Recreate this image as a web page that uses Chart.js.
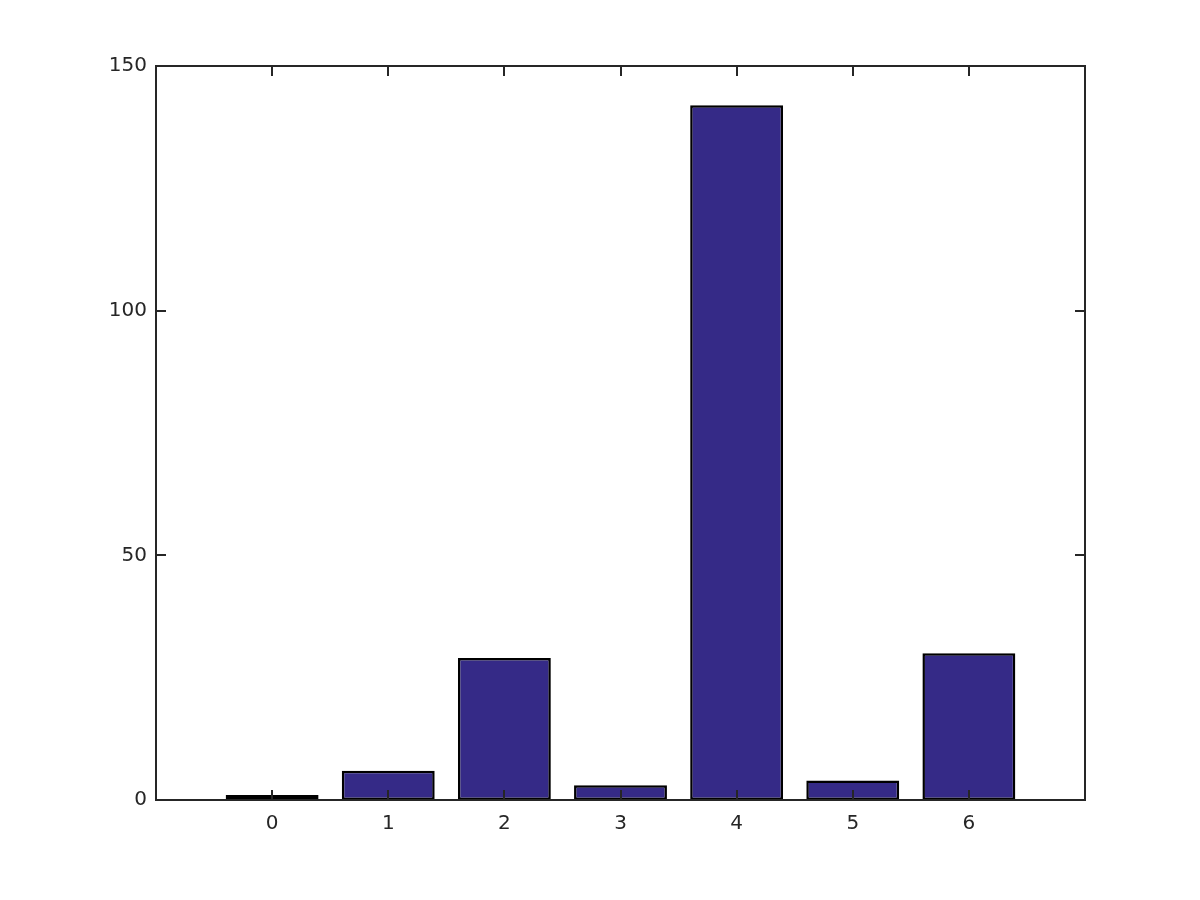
<!DOCTYPE html>
<html>
<head>
<meta charset="utf-8">
<script src="https://cdn.jsdelivr.net/npm/chart.js@4"></script>
<style>
    html, body { margin: 0; padding: 0; background: #ffffff; }
    #wrap { width: 1200px; height: 900px; }
</style>
</head>
<body>
<div id="wrap"><canvas id="barChart" width="1200" height="900"></canvas></div>
<script>
// Chart data
const categories = [0, 1, 2, 3, 4, 5, 6];
const counts = [1, 6, 29, 3, 142, 4, 30];
const yTicks = [0, 50, 100, 150];

const axisColor = '#262626';

// Frame and inward tick marks on all four sides
const framePlugin = {
    id: 'frame',
    afterDatasetsDraw(chart) {
        const { ctx, chartArea, scales } = chart;
        const { left, right, top, bottom } = chartArea;
        const len = 10;
        ctx.save();
        ctx.strokeStyle = axisColor;
        ctx.lineWidth = 2;
        ctx.beginPath();
        categories.forEach(c => {
            const x = Math.round(scales.x.getPixelForValue(c));
            ctx.moveTo(x, bottom); ctx.lineTo(x, bottom - len);
            ctx.moveTo(x, top); ctx.lineTo(x, top + len);
        });
        yTicks.forEach(v => {
            const y = Math.round(scales.y.getPixelForValue(v));
            ctx.moveTo(left, y); ctx.lineTo(left + len, y);
            ctx.moveTo(right, y); ctx.lineTo(right - len, y);
        });
        ctx.stroke();
        ctx.strokeRect(left, top, right - left, bottom - top);
        ctx.restore();
    }
};

const ctx = document.getElementById('barChart').getContext('2d');
new Chart(ctx, {
    type: 'bar',
    data: {
        datasets: [{
            data: categories.map((c, i) => ({ x: c, y: counts[i] })),
            backgroundColor: '#352a87',
            borderColor: '#000000',
            borderWidth: 2.5,
            borderSkipped: false,
            categoryPercentage: 1,
            barPercentage: 0.8
        }]
    },
    options: {
        responsive: false,
        animation: false,
        layout: { padding: { top: 66, right: 115, left: 0, bottom: 0 } },
        plugins: {
            legend: { display: false },
            tooltip: { enabled: false }
        },
        scales: {
            x: {
                type: 'linear',
                offset: false,
                min: -1,
                max: 7,
                grid: { display: false, offset: false },
                border: { display: false },
                afterFit: scale => { scale.height = 100; },
                afterBuildTicks: scale => {
                    scale.ticks = categories.map(c => ({ value: c }));
                },
                ticks: {
                    padding: 4,
                    color: axisColor,
                    font: { family: 'DejaVu Sans', size: 20 }
                }
            },
            y: {
                min: 0,
                max: 150,
                grid: { display: false },
                border: { display: false },
                afterFit: scale => { scale.width = 156; },
                afterBuildTicks: scale => {
                    scale.ticks = yTicks.map(v => ({ value: v }));
                },
                ticks: {
                    padding: 1,
                    color: axisColor,
                    font: { family: 'DejaVu Sans', size: 20 }
                }
            }
        }
    },
    plugins: [framePlugin]
});
</script>
</body>
</html>
